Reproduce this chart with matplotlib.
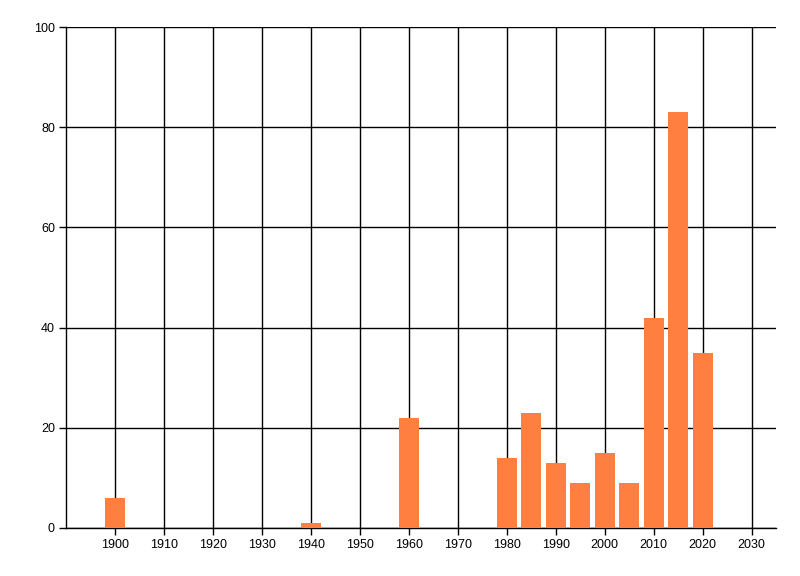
import numpy as np
import matplotlib.pyplot as plt

# jaren en aantallen
years = [1900, 1940, 1960, 1980, 1985, 1990, 1995, 2000, 2005, 2010, 2015, 2020]
counts = [6, 1, 22, 14, 23, 13, 9, 15, 9, 42, 83, 35]
x_ticks = list(range(1900, 2031, 10))
y_ticks = [0, 20, 40, 60, 80, 100]

plt.rcParams['font.family'] = ['Liberation Sans', 'DejaVu Sans']

fig = plt.figure(figsize=(8, 5.76), dpi=100)
ax = fig.add_axes([66 / 800, 1 - 528 / 576, 710 / 800, 501 / 576])

ax.bar(years, counts, width=4.1, color='#FF7F40', zorder=3)

ax.set_xlim(1890, 2035)
ax.set_ylim(0, 100)
ax.set_xticks(x_ticks)
ax.set_yticks(y_ticks)
ax.tick_params(labelsize=9, length=5, width=1, colors='black', pad=3)

ax.grid(True, color='black', linewidth=1)
ax.set_axisbelow(True)
for side in ['top', 'right']:
    ax.spines[side].set_visible(False)
for side in ['left', 'bottom']:
    ax.spines[side].set_linewidth(1)

fig.savefig('out.png', dpi=100)
